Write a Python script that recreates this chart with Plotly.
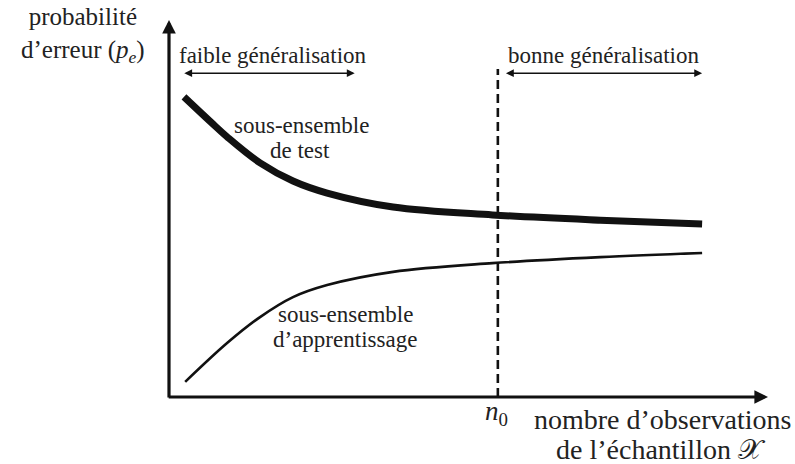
import plotly.graph_objects as go

# ---- data (abstract units: x = sample size, y = error probability) ----
x_test = [2.5, 7.0, 9.7, 15.2, 20.7, 26.4, 37.4, 54.0, 72.0, 89.0]
pe_test = [0.796, 0.729, 0.690, 0.621, 0.573, 0.541, 0.504, 0.483, 0.469, 0.459]
x_train = [2.7, 9.7, 15.2, 20.7, 26.4, 37.4, 54.0, 72.0, 89.0]
pe_train = [0.040, 0.143, 0.212, 0.265, 0.297, 0.332, 0.355, 0.371, 0.382]
n0 = 54.9
n0_top = 0.87
x_max, y_max = 100, 1.0
faible_range = [2.3, 31.0]
bonne_range = [56.0, 89.0]
region_y = 0.859

W, H = 795, 464
L, R, T, B = 169, 27, 20, 67
pw, ph = W - L - R, H - T - B


def px2paper(px):
    return (px - L) / pw


def py2paper(py):
    return (H - B - py) / ph


FONT = "Liberation Serif, DejaVu Serif, serif"
TXT = "#222222"
LINE = "#111111"

fig = go.Figure()
fig.add_trace(go.Scatter(x=x_test, y=pe_test, mode="lines",
                         line=dict(color=LINE, width=7, shape="spline"),
                         hoverinfo="skip", cliponaxis=False))
fig.add_trace(go.Scatter(x=x_train, y=pe_train, mode="lines",
                         line=dict(color=LINE, width=2.6, shape="spline"),
                         hoverinfo="skip", cliponaxis=False))
fig.add_trace(go.Scatter(x=[n0, n0], y=[0, n0_top], mode="lines",
                         line=dict(color=LINE, width=2.6, dash="9px,5px"),
                         hoverinfo="skip", cliponaxis=False))

ann = []
# axes with arrows
ann.append(dict(x=x_max, y=0, ax=-0.3, ay=0, xref="x", yref="y", axref="x", ayref="y",
                text="", showarrow=True, arrowhead=2, arrowsize=0.85, arrowwidth=3.2,
                arrowcolor=LINE, standoff=0, startstandoff=0))
ann.append(dict(x=0, y=y_max, ax=0, ay=-0.005, xref="x", yref="y", axref="x", ayref="y",
                text="", showarrow=True, arrowhead=2, arrowsize=0.85, arrowwidth=3.2,
                arrowcolor=LINE, standoff=0, startstandoff=0))
# region arrows
for rng in (faible_range, bonne_range):
    ann.append(dict(x=rng[1], y=region_y, ax=rng[0], ay=region_y, xref="x", yref="y",
                    axref="x", ayref="y", text="", showarrow=True, arrowhead=2,
                    arrowside="end+start", arrowsize=1.05, arrowwidth=1.5,
                    arrowcolor=LINE, standoff=0, startstandoff=0))


def label(text, cx, cy, size=23):
    ann.append(dict(x=px2paper(cx), y=py2paper(cy), xref="paper", yref="paper", text=text,
                    showarrow=False, xanchor="center", yanchor="middle",
                    font=dict(family=FONT, size=size, color=TXT)))


label("probabilité<br>d’erreur (<i>p<sub>e</sub></i>)", 83, 35, 25)
label("faible généralisation", 273, 56)
label("bonne généralisation", 603, 56)
label("sous-ensemble", 301, 125)
label("de test", 300, 151)
label("sous-ensemble", 345, 314)
label("d’apprentissage", 345, 339)
label("<i>n</i><sub>0</sub>", 496, 413, 27)
label("nombre d’observations", 662, 419, 28)
label("de l’échantillon 𝒳", 661, 449, 28)

fig.update_layout(
    width=W, height=H,
    margin=dict(l=L, r=R, t=T, b=B),
    paper_bgcolor="white", plot_bgcolor="white",
    showlegend=False,
    annotations=ann,
    xaxis=dict(range=[0, x_max], visible=False, fixedrange=True),
    yaxis=dict(range=[0, y_max], visible=False, fixedrange=True),
)

fig.write_html("out.html", config={"displayModeBar": False, "staticPlot": True},
               post_script="document.body.style.margin='0';document.body.style.overflow='hidden';")
